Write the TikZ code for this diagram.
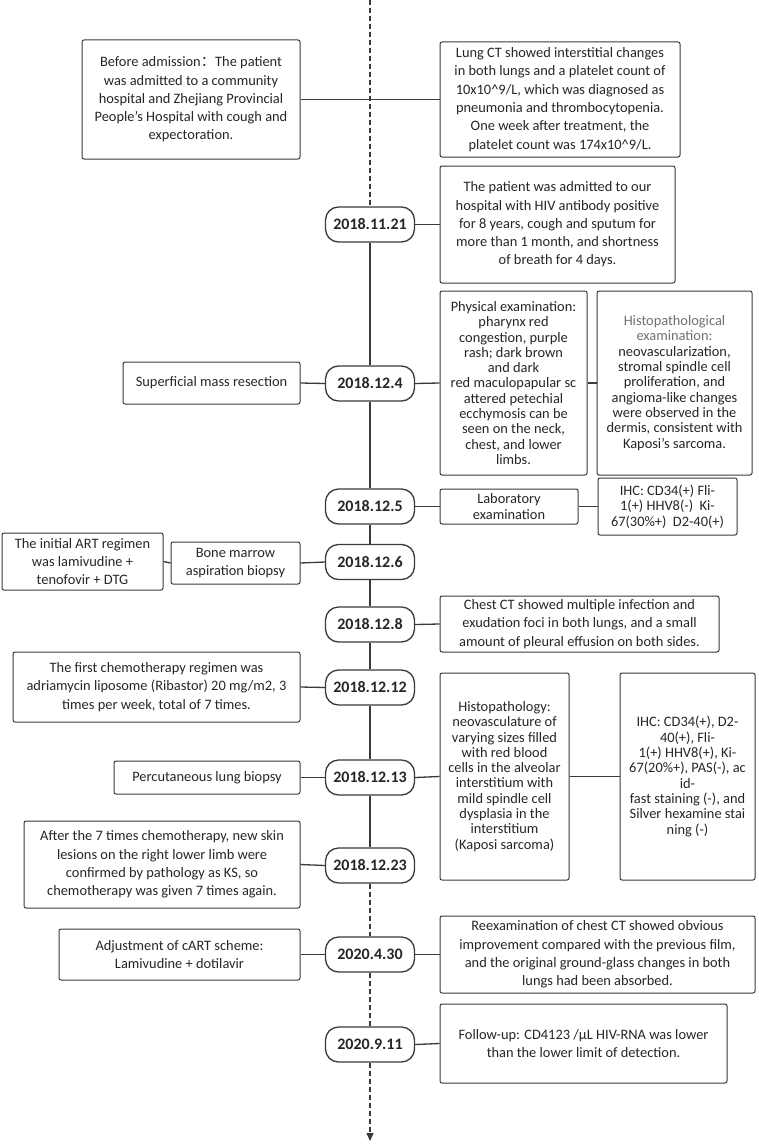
\documentclass[tikz,border=0pt]{standalone}
\usepackage{fontspec}
\setmainfont{Carlito}
\newfontfamily\cjk{Noto Sans CJK SC}
\usetikzlibrary{arrows.meta}
\definecolor{linec}{HTML}{3A3A3A}
\definecolor{txt}{HTML}{262626}
\definecolor{lighttxt}{HTML}{707070}
\tikzset{
  box/.style={draw=linec, line width=1pt, rounded corners=2pt, align=center, text=txt, inner sep=0pt,
    font=\fontsize{14.4}{18.3}\selectfont},
  tight/.style={font=\fontsize{14.4}{15.3}\selectfont},
  datebox/.style={draw=linec, line width=1.3pt, rounded corners=13pt, minimum width=89pt, minimum height=35pt,
    inner sep=0pt, text=txt, font=\fontsize{16}{18}\selectfont\bfseries},
  link/.style={draw=linec, line width=1.3pt},
  tl/.style={draw=linec, line width=1.3pt},
  tldash/.style={draw=linec, line width=1.3pt, dash pattern=on 5pt off 3pt},
}
\newcommand{\bx}[6]{\node[box,#6,minimum width=#3pt,minimum height=#4pt] (#1) at (#2) {#5};}
\begin{document}
\begin{tikzpicture}[x=1pt,y=-1pt]
\useasboundingbox[fill=white] (0,0) rectangle (758,1145);
% dates
\node[datebox] (d1) at (370,224.5) {2018.11.21};
\node[datebox] (d2) at (370,383.5) {2018.12.4};
\node[datebox] (d3) at (370,506.5) {2018.12.5};
\node[datebox] (d4) at (370,562) {2018.12.6};
\node[datebox] (d5) at (370,624.5) {2018.12.8};
\node[datebox] (d6) at (370,687.5) {2018.12.12};
\node[datebox] (d7) at (370,777.5) {2018.12.13};
\node[datebox] (d8) at (370,865.5) {2018.12.23};
\node[datebox] (d9) at (370,954.5) {2020.4.30};
\node[datebox] (d10) at (370,1044.5) {2020.9.11};
\coordinate (top) at (370,0);
\coordinate (bot) at (370,1141);
% timeline
\draw[tldash] (top) -- (d1.north);
\draw[tl] (d1.south) -- (d2.north);
\draw[tl] (d2.south) -- (d3.north);
\draw[tl] (d3.south) -- (d4.north);
\draw[tl] (d4.south) -- (d5.north);
\draw[tl] (d5.south) -- (d6.north);
\draw[tl] (d6.south) -- (d7.north);
\draw[tl] (d7.south) -- (d8.north);
\draw[tldash] (d8.south) -- (d9.north);
\draw[tldash] (d9.south) -- (d10.north);
\draw[tldash, -{Triangle[length=8pt,width=7pt]}] (d10.south) -- (bot);
% boxes
\bx{A}{191,99.5}{218}{119}{Before admission{\cjk：}The patient\\was admitted to a community\\hospital and Zhejiang Provincial\\People's Hospital with cough and\\expectoration.}{}
\bx{B}{560,99.5}{240}{115}{Lung CT showed interstitial changes\\in both lungs and a platelet count of\\10x10\textasciicircum 9/L, which was diagnosed as\\pneumonia and thrombocytopenia.\\One week after treatment, the\\platelet count was 174x10\textasciicircum 9/L.}{}
\bx{C}{557.5,224.5}{235}{117}{The patient was admitted to our\\hospital with HIV antibody positive\\for 8 years, cough and sputum for\\more than 1 month, and shortness\\of breath for 4 days.}{}
\bx{D}{513.5,383}{147}{184}{Physical examination:\\pharynx red\\congestion, purple\\rash; dark brown\\and dark\\red maculopapular sc\\attered petechial\\ecchymosis can be\\seen on the neck,\\chest, and lower\\limbs.}{tight}
\bx{E}{674.5,383}{155}{184}{\textcolor{lighttxt}{Histopathological}\\\textcolor{lighttxt}{examination:}\\neovascularization,\\stromal spindle cell\\proliferation, and\\angioma-like changes\\were observed in the\\dermis, consistent with\\Kaposi's sarcoma.}{tight}
\bx{S}{211.5,383}{177}{42}{Superficial mass resection}{}
\bx{Lab}{509,506.5}{138}{35}{Laboratory\\examination}{tight}
\bx{I1}{667.5,506.5}{139}{57}{IHC: CD34(+) Fli-\\1(+) HHV8(-)~~Ki-\\67(30\%+)~~D2-40(+)}{tight}
\bx{ART}{82.5,561.5}{161}{57}{The initial ART regimen\\was lamivudine +\\tenofovir + DTG}{}
\bx{BM}{235.5,563}{129}{42}{Bone marrow\\aspiration biopsy}{}
\bx{CT}{579.5,624}{279}{56}{Chest CT showed multiple infection and\\exudation foci in both lungs, and a small\\amount of pleural effusion on both sides.}{}
\bx{CH}{156.5,687}{287}{70}{The first chemotherapy regimen was\\adriamycin liposome (Ribastor) 20 mg/m2, 3\\times per week, total of 7 times.}{}
\bx{H2}{504.5,776.5}{129}{207}{Histopathology:\\neovasculature of\\varying sizes filled\\with red blood\\cells in the alveolar\\interstitium with\\mild spindle cell\\dysplasia in the\\interstitium\\(Kaposi sarcoma)}{tight}
\bx{I2}{687.5,776.5}{135}{207}{IHC: CD34(+), D2-\\40(+), Fli-\\1(+) HHV8(+), Ki-\\67(20\%+), PAS(-), ac\\id-\\fast staining (-), and\\Silver hexamine stai\\ning (-)}{tight}
\bx{P}{207,777.5}{186}{33}{Percutaneous lung biopsy}{}
\bx{AF}{162,864.5}{276}{87}{After the 7 times chemotherapy, new skin\\lesions on the right lower limb were\\confirmed by pathology as KS, so\\chemotherapy was given 7 times again.}{}
\bx{ADJ}{179.5,954.5}{241}{51}{Adjustment of cART scheme:\\Lamivudine + dotilavir}{}
\bx{RE}{597.5,954.5}{315}{77}{Reexamination of chest CT showed obvious\\improvement compared with the previous film,\\and the original ground-glass changes in both\\lungs had been absorbed.}{}
\bx{FU}{583.5,1043.5}{287}{79}{Follow-up: CD4123 /µL HIV-RNA was lower\\than the lower limit of detection.}{}
% connectors
\draw[link] (A.east) -- (B.west);
\draw[link] (d1.east) -- (C.west);
\draw[link] (S.east) -- (d2.west);
\draw[link] (d2.east) -- (D.west);
\draw[link] (D.east) -- (E.west);
\draw[link] (d3.east) -- (Lab.west);
\draw[link] (Lab.east) -- (I1.west);
\draw[link] (ART.east) -- (BM.west);
\draw[link] (BM.east) -- (d4.west);
\draw[link] (d5.east) -- (CT.west);
\draw[link] (CH.east) -- (d6.west);
\draw[link] (P.east) -- (d7.west);
\draw[link] (d7.east) -- (H2.west);
\draw[link] (H2.east) -- (I2.west);
\draw[link] (AF.east) -- (d8.west);
\draw[link] (ADJ.east) -- (d9.west);
\draw[link] (d9.east) -- (RE.west);
\draw[link] (d10.east) -- (FU.west);
\end{tikzpicture}
\end{document}
